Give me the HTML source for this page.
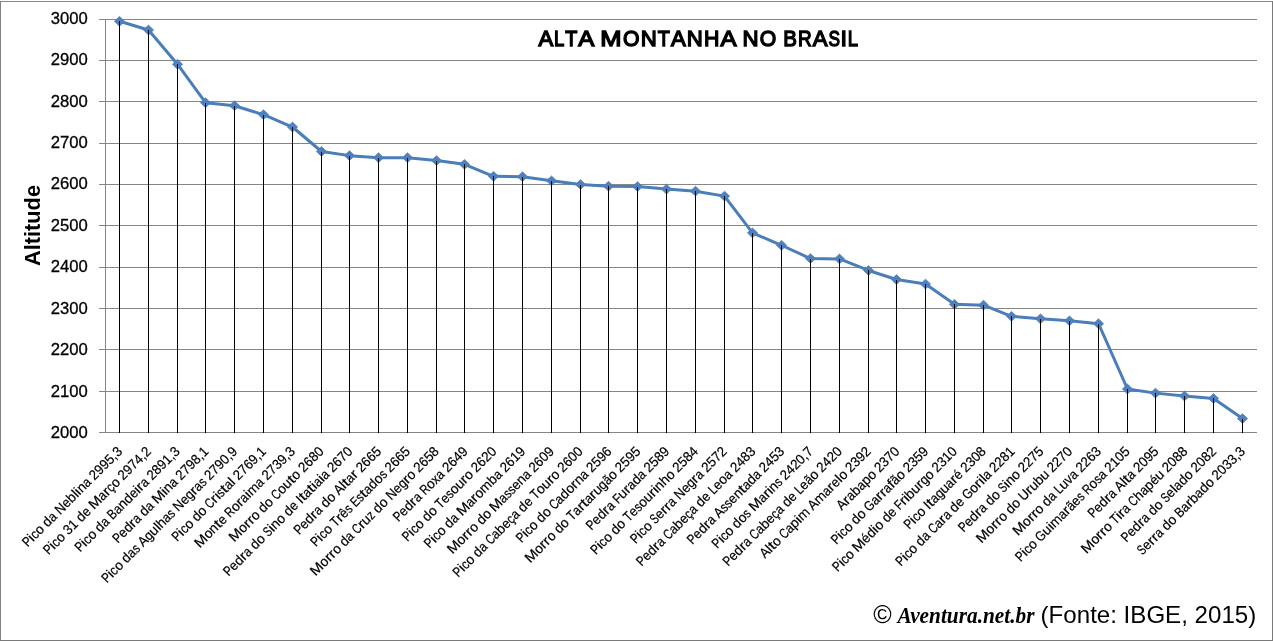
<!DOCTYPE html>
<html><head><meta charset="utf-8"><title>Alta Montanha no Brasil</title>
<style>
html,body{margin:0;padding:0;background:#fff;}
body{width:1273px;height:641px;overflow:hidden;}
svg{display:block;will-change:transform;}
.lab{font-family:"Liberation Sans",sans-serif;font-size:13.8px;fill:#000;stroke:#000;stroke-width:0.2px;}
.ylab{font-family:"Liberation Sans",sans-serif;font-size:17px;fill:#000;stroke:#000;stroke-width:0.3px;}
</style></head><body>
<svg width="1273" height="641" viewBox="0 0 1273 641">
<rect x="0" y="0" width="1273" height="641" fill="#fff"/>
<g shape-rendering="crispEdges">
<rect x="0" y="1" width="1273" height="1" fill="#878787"/>
<rect x="0" y="1" width="1" height="640" fill="#828282"/>
<rect x="1272" y="1" width="1" height="640" fill="#7a7a7a"/>
<rect x="0" y="640" width="1273" height="1" fill="#7a7a7a"/>
<rect x="99" y="19" width="1158" height="1" fill="#868686"/>
<rect x="99" y="60" width="1158" height="1" fill="#868686"/>
<rect x="99" y="101" width="1158" height="1" fill="#868686"/>
<rect x="99" y="143" width="1158" height="1" fill="#868686"/>
<rect x="99" y="184" width="1158" height="1" fill="#868686"/>
<rect x="99" y="225" width="1158" height="1" fill="#868686"/>
<rect x="99" y="267" width="1158" height="1" fill="#868686"/>
<rect x="99" y="308" width="1158" height="1" fill="#868686"/>
<rect x="99" y="349" width="1158" height="1" fill="#868686"/>
<rect x="99" y="391" width="1158" height="1" fill="#868686"/>
<rect x="99" y="432" width="1158" height="1" fill="#868686"/>
<rect x="105" y="19" width="1" height="414" fill="#868686"/>
</g>
<polyline points="119.50,21.29 148.50,30.01 177.50,64.24 205.50,102.73 234.50,105.71 263.50,114.71 292.50,127.02 321.50,151.51 349.50,155.64 378.50,157.70 407.50,157.70 436.50,160.60 464.50,164.31 493.50,176.29 522.50,176.70 551.50,180.83 580.50,184.55 608.50,186.20 637.50,186.61 666.50,189.09 695.50,191.16 724.50,196.11 752.50,232.87 781.50,245.26 810.50,258.60 839.50,258.89 868.50,270.45 896.50,279.54 925.50,284.08 954.50,304.32 983.50,305.15 1011.50,316.30 1040.50,318.78 1069.50,320.84 1098.50,323.73 1127.50,388.99 1155.50,393.12 1184.50,396.01 1213.50,398.48 1242.50,418.60" fill="none" stroke="#4A7EBB" stroke-width="3" stroke-linejoin="round" stroke-linecap="round"/>
<polygon points="119.50,16.39 124.60,21.29 119.50,26.19 114.40,21.29" fill="#4F81BD" stroke="#4A7EBB" stroke-width="0.75"/>
<polygon points="148.50,25.11 153.60,30.01 148.50,34.91 143.40,30.01" fill="#4F81BD" stroke="#4A7EBB" stroke-width="0.75"/>
<polygon points="177.50,59.34 182.60,64.24 177.50,69.14 172.40,64.24" fill="#4F81BD" stroke="#4A7EBB" stroke-width="0.75"/>
<polygon points="205.50,97.83 210.60,102.73 205.50,107.63 200.40,102.73" fill="#4F81BD" stroke="#4A7EBB" stroke-width="0.75"/>
<polygon points="234.50,100.81 239.60,105.71 234.50,110.61 229.40,105.71" fill="#4F81BD" stroke="#4A7EBB" stroke-width="0.75"/>
<polygon points="263.50,109.81 268.60,114.71 263.50,119.61 258.40,114.71" fill="#4F81BD" stroke="#4A7EBB" stroke-width="0.75"/>
<polygon points="292.50,122.12 297.60,127.02 292.50,131.92 287.40,127.02" fill="#4F81BD" stroke="#4A7EBB" stroke-width="0.75"/>
<polygon points="321.50,146.61 326.60,151.51 321.50,156.41 316.40,151.51" fill="#4F81BD" stroke="#4A7EBB" stroke-width="0.75"/>
<polygon points="349.50,150.74 354.60,155.64 349.50,160.54 344.40,155.64" fill="#4F81BD" stroke="#4A7EBB" stroke-width="0.75"/>
<polygon points="378.50,152.80 383.60,157.70 378.50,162.60 373.40,157.70" fill="#4F81BD" stroke="#4A7EBB" stroke-width="0.75"/>
<polygon points="407.50,152.80 412.60,157.70 407.50,162.60 402.40,157.70" fill="#4F81BD" stroke="#4A7EBB" stroke-width="0.75"/>
<polygon points="436.50,155.70 441.60,160.60 436.50,165.50 431.40,160.60" fill="#4F81BD" stroke="#4A7EBB" stroke-width="0.75"/>
<polygon points="464.50,159.41 469.60,164.31 464.50,169.21 459.40,164.31" fill="#4F81BD" stroke="#4A7EBB" stroke-width="0.75"/>
<polygon points="493.50,171.39 498.60,176.29 493.50,181.19 488.40,176.29" fill="#4F81BD" stroke="#4A7EBB" stroke-width="0.75"/>
<polygon points="522.50,171.80 527.60,176.70 522.50,181.60 517.40,176.70" fill="#4F81BD" stroke="#4A7EBB" stroke-width="0.75"/>
<polygon points="551.50,175.93 556.60,180.83 551.50,185.73 546.40,180.83" fill="#4F81BD" stroke="#4A7EBB" stroke-width="0.75"/>
<polygon points="580.50,179.65 585.60,184.55 580.50,189.45 575.40,184.55" fill="#4F81BD" stroke="#4A7EBB" stroke-width="0.75"/>
<polygon points="608.50,181.30 613.60,186.20 608.50,191.10 603.40,186.20" fill="#4F81BD" stroke="#4A7EBB" stroke-width="0.75"/>
<polygon points="637.50,181.71 642.60,186.61 637.50,191.51 632.40,186.61" fill="#4F81BD" stroke="#4A7EBB" stroke-width="0.75"/>
<polygon points="666.50,184.19 671.60,189.09 666.50,193.99 661.40,189.09" fill="#4F81BD" stroke="#4A7EBB" stroke-width="0.75"/>
<polygon points="695.50,186.26 700.60,191.16 695.50,196.06 690.40,191.16" fill="#4F81BD" stroke="#4A7EBB" stroke-width="0.75"/>
<polygon points="724.50,191.21 729.60,196.11 724.50,201.01 719.40,196.11" fill="#4F81BD" stroke="#4A7EBB" stroke-width="0.75"/>
<polygon points="752.50,227.97 757.60,232.87 752.50,237.77 747.40,232.87" fill="#4F81BD" stroke="#4A7EBB" stroke-width="0.75"/>
<polygon points="781.50,240.36 786.60,245.26 781.50,250.16 776.40,245.26" fill="#4F81BD" stroke="#4A7EBB" stroke-width="0.75"/>
<polygon points="810.50,253.70 815.60,258.60 810.50,263.50 805.40,258.60" fill="#4F81BD" stroke="#4A7EBB" stroke-width="0.75"/>
<polygon points="839.50,253.99 844.60,258.89 839.50,263.79 834.40,258.89" fill="#4F81BD" stroke="#4A7EBB" stroke-width="0.75"/>
<polygon points="868.50,265.55 873.60,270.45 868.50,275.35 863.40,270.45" fill="#4F81BD" stroke="#4A7EBB" stroke-width="0.75"/>
<polygon points="896.50,274.64 901.60,279.54 896.50,284.44 891.40,279.54" fill="#4F81BD" stroke="#4A7EBB" stroke-width="0.75"/>
<polygon points="925.50,279.18 930.60,284.08 925.50,288.98 920.40,284.08" fill="#4F81BD" stroke="#4A7EBB" stroke-width="0.75"/>
<polygon points="954.50,299.42 959.60,304.32 954.50,309.22 949.40,304.32" fill="#4F81BD" stroke="#4A7EBB" stroke-width="0.75"/>
<polygon points="983.50,300.25 988.60,305.15 983.50,310.05 978.40,305.15" fill="#4F81BD" stroke="#4A7EBB" stroke-width="0.75"/>
<polygon points="1011.50,311.40 1016.60,316.30 1011.50,321.20 1006.40,316.30" fill="#4F81BD" stroke="#4A7EBB" stroke-width="0.75"/>
<polygon points="1040.50,313.88 1045.60,318.78 1040.50,323.68 1035.40,318.78" fill="#4F81BD" stroke="#4A7EBB" stroke-width="0.75"/>
<polygon points="1069.50,315.94 1074.60,320.84 1069.50,325.74 1064.40,320.84" fill="#4F81BD" stroke="#4A7EBB" stroke-width="0.75"/>
<polygon points="1098.50,318.83 1103.60,323.73 1098.50,328.63 1093.40,323.73" fill="#4F81BD" stroke="#4A7EBB" stroke-width="0.75"/>
<polygon points="1127.50,384.09 1132.60,388.99 1127.50,393.88 1122.40,388.99" fill="#4F81BD" stroke="#4A7EBB" stroke-width="0.75"/>
<polygon points="1155.50,388.22 1160.60,393.12 1155.50,398.01 1150.40,393.12" fill="#4F81BD" stroke="#4A7EBB" stroke-width="0.75"/>
<polygon points="1184.50,391.11 1189.60,396.01 1184.50,400.91 1179.40,396.01" fill="#4F81BD" stroke="#4A7EBB" stroke-width="0.75"/>
<polygon points="1213.50,393.58 1218.60,398.48 1213.50,403.38 1208.40,398.48" fill="#4F81BD" stroke="#4A7EBB" stroke-width="0.75"/>
<polygon points="1242.50,413.70 1247.60,418.60 1242.50,423.50 1237.40,418.60" fill="#4F81BD" stroke="#4A7EBB" stroke-width="0.75"/>
<g shape-rendering="crispEdges">
<rect x="119" y="21.29" width="1" height="411.71" fill="#000"/>
<rect x="148" y="30.01" width="1" height="402.99" fill="#000"/>
<rect x="177" y="64.24" width="1" height="368.76" fill="#000"/>
<rect x="205" y="102.73" width="1" height="330.27" fill="#000"/>
<rect x="234" y="105.71" width="1" height="327.29" fill="#000"/>
<rect x="263" y="114.71" width="1" height="318.29" fill="#000"/>
<rect x="292" y="127.02" width="1" height="305.98" fill="#000"/>
<rect x="321" y="151.51" width="1" height="281.49" fill="#000"/>
<rect x="349" y="155.64" width="1" height="277.36" fill="#000"/>
<rect x="378" y="157.70" width="1" height="275.30" fill="#000"/>
<rect x="407" y="157.70" width="1" height="275.30" fill="#000"/>
<rect x="436" y="160.60" width="1" height="272.40" fill="#000"/>
<rect x="464" y="164.31" width="1" height="268.69" fill="#000"/>
<rect x="493" y="176.29" width="1" height="256.71" fill="#000"/>
<rect x="522" y="176.70" width="1" height="256.30" fill="#000"/>
<rect x="551" y="180.83" width="1" height="252.17" fill="#000"/>
<rect x="580" y="184.55" width="1" height="248.45" fill="#000"/>
<rect x="608" y="186.20" width="1" height="246.80" fill="#000"/>
<rect x="637" y="186.61" width="1" height="246.39" fill="#000"/>
<rect x="666" y="189.09" width="1" height="243.91" fill="#000"/>
<rect x="695" y="191.16" width="1" height="241.84" fill="#000"/>
<rect x="724" y="196.11" width="1" height="236.89" fill="#000"/>
<rect x="752" y="232.87" width="1" height="200.13" fill="#000"/>
<rect x="781" y="245.26" width="1" height="187.74" fill="#000"/>
<rect x="810" y="258.60" width="1" height="174.40" fill="#000"/>
<rect x="839" y="258.89" width="1" height="174.11" fill="#000"/>
<rect x="868" y="270.45" width="1" height="162.55" fill="#000"/>
<rect x="896" y="279.54" width="1" height="153.46" fill="#000"/>
<rect x="925" y="284.08" width="1" height="148.92" fill="#000"/>
<rect x="954" y="304.32" width="1" height="128.68" fill="#000"/>
<rect x="983" y="305.15" width="1" height="127.85" fill="#000"/>
<rect x="1011" y="316.30" width="1" height="116.70" fill="#000"/>
<rect x="1040" y="318.78" width="1" height="114.22" fill="#000"/>
<rect x="1069" y="320.84" width="1" height="112.16" fill="#000"/>
<rect x="1098" y="323.73" width="1" height="109.27" fill="#000"/>
<rect x="1127" y="388.99" width="1" height="44.01" fill="#000"/>
<rect x="1155" y="393.12" width="1" height="39.88" fill="#000"/>
<rect x="1184" y="396.01" width="1" height="36.99" fill="#000"/>
<rect x="1213" y="398.48" width="1" height="34.52" fill="#000"/>
<rect x="1242" y="418.60" width="1" height="14.40" fill="#000"/>
</g>
<text class="ylab" x="87.70" y="23.80" text-anchor="end" textLength="37.00" lengthAdjust="spacingAndGlyphs">3000</text>
<text class="ylab" x="87.70" y="65.22" text-anchor="end" textLength="37.00" lengthAdjust="spacingAndGlyphs">2900</text>
<text class="ylab" x="87.70" y="106.64" text-anchor="end" textLength="37.00" lengthAdjust="spacingAndGlyphs">2800</text>
<text class="ylab" x="87.70" y="148.06" text-anchor="end" textLength="37.00" lengthAdjust="spacingAndGlyphs">2700</text>
<text class="ylab" x="87.70" y="189.48" text-anchor="end" textLength="37.00" lengthAdjust="spacingAndGlyphs">2600</text>
<text class="ylab" x="87.70" y="230.90" text-anchor="end" textLength="37.00" lengthAdjust="spacingAndGlyphs">2500</text>
<text class="ylab" x="87.70" y="272.32" text-anchor="end" textLength="37.00" lengthAdjust="spacingAndGlyphs">2400</text>
<text class="ylab" x="87.70" y="313.74" text-anchor="end" textLength="37.00" lengthAdjust="spacingAndGlyphs">2300</text>
<text class="ylab" x="87.70" y="355.16" text-anchor="end" textLength="37.00" lengthAdjust="spacingAndGlyphs">2200</text>
<text class="ylab" x="87.70" y="396.58" text-anchor="end" textLength="37.00" lengthAdjust="spacingAndGlyphs">2100</text>
<text class="ylab" x="87.70" y="438.00" text-anchor="end" textLength="37.00" lengthAdjust="spacingAndGlyphs">2000</text>
<text class="lab" transform="translate(123.10 452.20) rotate(-45)"><tspan x="-134.77" textLength="7.49" lengthAdjust="spacingAndGlyphs">P</tspan><tspan x="-127.28" textLength="3.33" lengthAdjust="spacingAndGlyphs">i</tspan><tspan x="-123.95" textLength="6.13" lengthAdjust="spacingAndGlyphs">c</tspan><tspan x="-117.82" textLength="7.65" lengthAdjust="spacingAndGlyphs">o</tspan> <tspan x="-106.90" textLength="7.62" lengthAdjust="spacingAndGlyphs">d</tspan><tspan x="-99.28" textLength="6.95" lengthAdjust="spacingAndGlyphs">a</tspan> <tspan x="-89.05" textLength="9.36" lengthAdjust="spacingAndGlyphs">N</tspan><tspan x="-79.69" textLength="7.21" lengthAdjust="spacingAndGlyphs">e</tspan><tspan x="-72.48" textLength="7.62" lengthAdjust="spacingAndGlyphs">b</tspan><tspan x="-64.86" textLength="3.33" lengthAdjust="spacingAndGlyphs">l</tspan><tspan x="-61.53" textLength="3.33" lengthAdjust="spacingAndGlyphs">i</tspan><tspan x="-58.21" textLength="7.62" lengthAdjust="spacingAndGlyphs">n</tspan><tspan x="-50.59" textLength="6.95" lengthAdjust="spacingAndGlyphs">a</tspan> <tspan x="-40.36" textLength="7.35" lengthAdjust="spacingAndGlyphs">2</tspan><tspan x="-33.01" textLength="7.35" lengthAdjust="spacingAndGlyphs">9</tspan><tspan x="-25.67" textLength="7.35" lengthAdjust="spacingAndGlyphs">9</tspan><tspan x="-18.32" textLength="7.35" lengthAdjust="spacingAndGlyphs">5</tspan><tspan x="-10.97" textLength="3.62" lengthAdjust="spacingAndGlyphs">,</tspan><tspan x="-7.35" textLength="7.35" lengthAdjust="spacingAndGlyphs">3</tspan></text>
<text class="lab" transform="translate(151.89 452.20) rotate(-45)"><tspan x="-145.78" textLength="7.49" lengthAdjust="spacingAndGlyphs">P</tspan><tspan x="-138.29" textLength="3.33" lengthAdjust="spacingAndGlyphs">i</tspan><tspan x="-134.96" textLength="6.13" lengthAdjust="spacingAndGlyphs">c</tspan><tspan x="-128.83" textLength="7.65" lengthAdjust="spacingAndGlyphs">o</tspan> <tspan x="-117.90" textLength="7.35" lengthAdjust="spacingAndGlyphs">3</tspan><tspan x="-110.56" textLength="7.35" lengthAdjust="spacingAndGlyphs">1</tspan> <tspan x="-99.93" textLength="7.62" lengthAdjust="spacingAndGlyphs">d</tspan><tspan x="-92.31" textLength="7.21" lengthAdjust="spacingAndGlyphs">e</tspan> <tspan x="-81.82" textLength="12.40" lengthAdjust="spacingAndGlyphs">M</tspan><tspan x="-69.42" textLength="6.95" lengthAdjust="spacingAndGlyphs">a</tspan><tspan x="-62.47" textLength="5.06" lengthAdjust="spacingAndGlyphs">r</tspan><tspan x="-57.42" textLength="6.13" lengthAdjust="spacingAndGlyphs">ç</tspan><tspan x="-51.29" textLength="7.65" lengthAdjust="spacingAndGlyphs">o</tspan> <tspan x="-40.36" textLength="7.35" lengthAdjust="spacingAndGlyphs">2</tspan><tspan x="-33.01" textLength="7.35" lengthAdjust="spacingAndGlyphs">9</tspan><tspan x="-25.67" textLength="7.35" lengthAdjust="spacingAndGlyphs">7</tspan><tspan x="-18.32" textLength="7.35" lengthAdjust="spacingAndGlyphs">4</tspan><tspan x="-10.97" textLength="3.62" lengthAdjust="spacingAndGlyphs">,</tspan><tspan x="-7.35" textLength="7.35" lengthAdjust="spacingAndGlyphs">2</tspan></text>
<text class="lab" transform="translate(180.68 452.20) rotate(-45)"><tspan x="-141.97" textLength="7.49" lengthAdjust="spacingAndGlyphs">P</tspan><tspan x="-134.48" textLength="3.33" lengthAdjust="spacingAndGlyphs">i</tspan><tspan x="-131.15" textLength="6.13" lengthAdjust="spacingAndGlyphs">c</tspan><tspan x="-125.02" textLength="7.65" lengthAdjust="spacingAndGlyphs">o</tspan> <tspan x="-114.10" textLength="7.62" lengthAdjust="spacingAndGlyphs">d</tspan><tspan x="-106.48" textLength="6.95" lengthAdjust="spacingAndGlyphs">a</tspan> <tspan x="-96.25" textLength="7.89" lengthAdjust="spacingAndGlyphs">B</tspan><tspan x="-88.37" textLength="6.95" lengthAdjust="spacingAndGlyphs">a</tspan><tspan x="-81.42" textLength="7.62" lengthAdjust="spacingAndGlyphs">n</tspan><tspan x="-73.80" textLength="7.62" lengthAdjust="spacingAndGlyphs">d</tspan><tspan x="-66.18" textLength="7.21" lengthAdjust="spacingAndGlyphs">e</tspan><tspan x="-58.97" textLength="3.33" lengthAdjust="spacingAndGlyphs">i</tspan><tspan x="-55.64" textLength="5.06" lengthAdjust="spacingAndGlyphs">r</tspan><tspan x="-50.59" textLength="6.95" lengthAdjust="spacingAndGlyphs">a</tspan> <tspan x="-40.36" textLength="7.35" lengthAdjust="spacingAndGlyphs">2</tspan><tspan x="-33.01" textLength="7.35" lengthAdjust="spacingAndGlyphs">8</tspan><tspan x="-25.67" textLength="7.35" lengthAdjust="spacingAndGlyphs">9</tspan><tspan x="-18.32" textLength="7.35" lengthAdjust="spacingAndGlyphs">1</tspan><tspan x="-10.97" textLength="3.62" lengthAdjust="spacingAndGlyphs">,</tspan><tspan x="-7.35" textLength="7.35" lengthAdjust="spacingAndGlyphs">3</tspan></text>
<text class="lab" transform="translate(209.47 452.20) rotate(-45)"><tspan x="-129.37" textLength="7.49" lengthAdjust="spacingAndGlyphs">P</tspan><tspan x="-121.88" textLength="7.21" lengthAdjust="spacingAndGlyphs">e</tspan><tspan x="-114.67" textLength="7.62" lengthAdjust="spacingAndGlyphs">d</tspan><tspan x="-107.05" textLength="5.06" lengthAdjust="spacingAndGlyphs">r</tspan><tspan x="-102.00" textLength="6.95" lengthAdjust="spacingAndGlyphs">a</tspan> <tspan x="-91.77" textLength="7.62" lengthAdjust="spacingAndGlyphs">d</tspan><tspan x="-84.15" textLength="6.95" lengthAdjust="spacingAndGlyphs">a</tspan> <tspan x="-73.93" textLength="12.40" lengthAdjust="spacingAndGlyphs">M</tspan><tspan x="-61.53" textLength="3.33" lengthAdjust="spacingAndGlyphs">i</tspan><tspan x="-58.21" textLength="7.62" lengthAdjust="spacingAndGlyphs">n</tspan><tspan x="-50.59" textLength="6.95" lengthAdjust="spacingAndGlyphs">a</tspan> <tspan x="-40.36" textLength="7.35" lengthAdjust="spacingAndGlyphs">2</tspan><tspan x="-33.01" textLength="7.35" lengthAdjust="spacingAndGlyphs">7</tspan><tspan x="-25.67" textLength="7.35" lengthAdjust="spacingAndGlyphs">9</tspan><tspan x="-18.32" textLength="7.35" lengthAdjust="spacingAndGlyphs">8</tspan><tspan x="-10.97" textLength="3.62" lengthAdjust="spacingAndGlyphs">,</tspan><tspan x="-7.35" textLength="7.35" lengthAdjust="spacingAndGlyphs">1</tspan></text>
<text class="lab" transform="translate(238.26 452.20) rotate(-45)"><tspan x="-185.77" textLength="7.49" lengthAdjust="spacingAndGlyphs">P</tspan><tspan x="-178.28" textLength="3.33" lengthAdjust="spacingAndGlyphs">i</tspan><tspan x="-174.96" textLength="6.13" lengthAdjust="spacingAndGlyphs">c</tspan><tspan x="-168.82" textLength="7.65" lengthAdjust="spacingAndGlyphs">o</tspan> <tspan x="-157.90" textLength="7.62" lengthAdjust="spacingAndGlyphs">d</tspan><tspan x="-150.28" textLength="6.95" lengthAdjust="spacingAndGlyphs">a</tspan><tspan x="-143.34" textLength="5.67" lengthAdjust="spacingAndGlyphs">s</tspan> <tspan x="-134.39" textLength="8.39" lengthAdjust="spacingAndGlyphs">A</tspan><tspan x="-126.00" textLength="6.83" lengthAdjust="spacingAndGlyphs">g</tspan><tspan x="-119.17" textLength="7.62" lengthAdjust="spacingAndGlyphs">u</tspan><tspan x="-111.55" textLength="3.33" lengthAdjust="spacingAndGlyphs">l</tspan><tspan x="-108.23" textLength="7.62" lengthAdjust="spacingAndGlyphs">h</tspan><tspan x="-100.61" textLength="6.95" lengthAdjust="spacingAndGlyphs">a</tspan><tspan x="-93.66" textLength="5.67" lengthAdjust="spacingAndGlyphs">s</tspan> <tspan x="-84.71" textLength="9.36" lengthAdjust="spacingAndGlyphs">N</tspan><tspan x="-75.35" textLength="7.21" lengthAdjust="spacingAndGlyphs">e</tspan><tspan x="-68.14" textLength="6.83" lengthAdjust="spacingAndGlyphs">g</tspan><tspan x="-61.31" textLength="5.06" lengthAdjust="spacingAndGlyphs">r</tspan><tspan x="-56.26" textLength="6.95" lengthAdjust="spacingAndGlyphs">a</tspan><tspan x="-49.31" textLength="5.67" lengthAdjust="spacingAndGlyphs">s</tspan> <tspan x="-40.36" textLength="7.35" lengthAdjust="spacingAndGlyphs">2</tspan><tspan x="-33.01" textLength="7.35" lengthAdjust="spacingAndGlyphs">7</tspan><tspan x="-25.67" textLength="7.35" lengthAdjust="spacingAndGlyphs">9</tspan><tspan x="-18.32" textLength="7.35" lengthAdjust="spacingAndGlyphs">0</tspan><tspan x="-10.97" textLength="3.62" lengthAdjust="spacingAndGlyphs">,</tspan><tspan x="-7.35" textLength="7.35" lengthAdjust="spacingAndGlyphs">9</tspan></text>
<text class="lab" transform="translate(267.05 452.20) rotate(-45)"><tspan x="-126.97" textLength="7.49" lengthAdjust="spacingAndGlyphs">P</tspan><tspan x="-119.48" textLength="3.33" lengthAdjust="spacingAndGlyphs">i</tspan><tspan x="-116.16" textLength="6.13" lengthAdjust="spacingAndGlyphs">c</tspan><tspan x="-110.02" textLength="7.65" lengthAdjust="spacingAndGlyphs">o</tspan> <tspan x="-99.10" textLength="7.62" lengthAdjust="spacingAndGlyphs">d</tspan><tspan x="-91.48" textLength="7.65" lengthAdjust="spacingAndGlyphs">o</tspan> <tspan x="-80.56" textLength="7.73" lengthAdjust="spacingAndGlyphs">C</tspan><tspan x="-72.83" textLength="5.06" lengthAdjust="spacingAndGlyphs">r</tspan><tspan x="-67.77" textLength="3.33" lengthAdjust="spacingAndGlyphs">i</tspan><tspan x="-64.44" textLength="5.67" lengthAdjust="spacingAndGlyphs">s</tspan><tspan x="-58.77" textLength="4.86" lengthAdjust="spacingAndGlyphs">t</tspan><tspan x="-53.91" textLength="6.95" lengthAdjust="spacingAndGlyphs">a</tspan><tspan x="-46.97" textLength="3.33" lengthAdjust="spacingAndGlyphs">l</tspan> <tspan x="-40.36" textLength="7.35" lengthAdjust="spacingAndGlyphs">2</tspan><tspan x="-33.01" textLength="7.35" lengthAdjust="spacingAndGlyphs">7</tspan><tspan x="-25.67" textLength="7.35" lengthAdjust="spacingAndGlyphs">6</tspan><tspan x="-18.32" textLength="7.35" lengthAdjust="spacingAndGlyphs">9</tspan><tspan x="-10.97" textLength="3.62" lengthAdjust="spacingAndGlyphs">,</tspan><tspan x="-7.35" textLength="7.35" lengthAdjust="spacingAndGlyphs">1</tspan></text>
<text class="lab" transform="translate(295.84 452.20) rotate(-45)"><tspan x="-136.03" textLength="12.40" lengthAdjust="spacingAndGlyphs">M</tspan><tspan x="-123.63" textLength="7.65" lengthAdjust="spacingAndGlyphs">o</tspan><tspan x="-115.99" textLength="7.62" lengthAdjust="spacingAndGlyphs">n</tspan><tspan x="-108.37" textLength="4.86" lengthAdjust="spacingAndGlyphs">t</tspan><tspan x="-103.51" textLength="7.21" lengthAdjust="spacingAndGlyphs">e</tspan> <tspan x="-93.02" textLength="7.87" lengthAdjust="spacingAndGlyphs">R</tspan><tspan x="-85.15" textLength="7.65" lengthAdjust="spacingAndGlyphs">o</tspan><tspan x="-77.50" textLength="5.06" lengthAdjust="spacingAndGlyphs">r</tspan><tspan x="-72.44" textLength="6.95" lengthAdjust="spacingAndGlyphs">a</tspan><tspan x="-65.50" textLength="3.33" lengthAdjust="spacingAndGlyphs">i</tspan><tspan x="-62.17" textLength="11.58" lengthAdjust="spacingAndGlyphs">m</tspan><tspan x="-50.59" textLength="6.95" lengthAdjust="spacingAndGlyphs">a</tspan> <tspan x="-40.36" textLength="7.35" lengthAdjust="spacingAndGlyphs">2</tspan><tspan x="-33.01" textLength="7.35" lengthAdjust="spacingAndGlyphs">7</tspan><tspan x="-25.67" textLength="7.35" lengthAdjust="spacingAndGlyphs">3</tspan><tspan x="-18.32" textLength="7.35" lengthAdjust="spacingAndGlyphs">9</tspan><tspan x="-10.97" textLength="3.62" lengthAdjust="spacingAndGlyphs">,</tspan><tspan x="-7.35" textLength="7.35" lengthAdjust="spacingAndGlyphs">3</tspan></text>
<text class="lab" transform="translate(324.63 452.20) rotate(-45)"><tspan x="-127.80" textLength="12.40" lengthAdjust="spacingAndGlyphs">M</tspan><tspan x="-115.40" textLength="7.65" lengthAdjust="spacingAndGlyphs">o</tspan><tspan x="-107.75" textLength="5.06" lengthAdjust="spacingAndGlyphs">r</tspan><tspan x="-102.70" textLength="5.06" lengthAdjust="spacingAndGlyphs">r</tspan><tspan x="-97.64" textLength="7.65" lengthAdjust="spacingAndGlyphs">o</tspan> <tspan x="-86.72" textLength="7.62" lengthAdjust="spacingAndGlyphs">d</tspan><tspan x="-79.10" textLength="7.65" lengthAdjust="spacingAndGlyphs">o</tspan> <tspan x="-68.17" textLength="7.73" lengthAdjust="spacingAndGlyphs">C</tspan><tspan x="-60.44" textLength="7.65" lengthAdjust="spacingAndGlyphs">o</tspan><tspan x="-52.80" textLength="7.62" lengthAdjust="spacingAndGlyphs">u</tspan><tspan x="-45.18" textLength="4.86" lengthAdjust="spacingAndGlyphs">t</tspan><tspan x="-40.32" textLength="7.65" lengthAdjust="spacingAndGlyphs">o</tspan> <tspan x="-29.40" textLength="7.35" lengthAdjust="spacingAndGlyphs">2</tspan><tspan x="-22.05" textLength="7.35" lengthAdjust="spacingAndGlyphs">6</tspan><tspan x="-14.70" textLength="7.35" lengthAdjust="spacingAndGlyphs">8</tspan><tspan x="-7.35" textLength="7.35" lengthAdjust="spacingAndGlyphs">0</tspan></text>
<text class="lab" transform="translate(353.42 452.20) rotate(-45)"><tspan x="-176.32" textLength="7.49" lengthAdjust="spacingAndGlyphs">P</tspan><tspan x="-168.83" textLength="7.21" lengthAdjust="spacingAndGlyphs">e</tspan><tspan x="-161.62" textLength="7.62" lengthAdjust="spacingAndGlyphs">d</tspan><tspan x="-154.00" textLength="5.06" lengthAdjust="spacingAndGlyphs">r</tspan><tspan x="-148.94" textLength="6.95" lengthAdjust="spacingAndGlyphs">a</tspan> <tspan x="-138.72" textLength="7.62" lengthAdjust="spacingAndGlyphs">d</tspan><tspan x="-131.10" textLength="7.65" lengthAdjust="spacingAndGlyphs">o</tspan> <tspan x="-120.18" textLength="6.66" lengthAdjust="spacingAndGlyphs">S</tspan><tspan x="-113.51" textLength="3.33" lengthAdjust="spacingAndGlyphs">i</tspan><tspan x="-110.19" textLength="7.62" lengthAdjust="spacingAndGlyphs">n</tspan><tspan x="-102.57" textLength="7.65" lengthAdjust="spacingAndGlyphs">o</tspan> <tspan x="-91.64" textLength="7.62" lengthAdjust="spacingAndGlyphs">d</tspan><tspan x="-84.03" textLength="7.21" lengthAdjust="spacingAndGlyphs">e</tspan> <tspan x="-73.53" textLength="3.65" lengthAdjust="spacingAndGlyphs">I</tspan><tspan x="-69.88" textLength="4.86" lengthAdjust="spacingAndGlyphs">t</tspan><tspan x="-65.02" textLength="6.95" lengthAdjust="spacingAndGlyphs">a</tspan><tspan x="-58.08" textLength="4.86" lengthAdjust="spacingAndGlyphs">t</tspan><tspan x="-53.22" textLength="3.33" lengthAdjust="spacingAndGlyphs">i</tspan><tspan x="-49.89" textLength="6.95" lengthAdjust="spacingAndGlyphs">a</tspan><tspan x="-42.95" textLength="3.33" lengthAdjust="spacingAndGlyphs">i</tspan><tspan x="-39.62" textLength="6.95" lengthAdjust="spacingAndGlyphs">a</tspan> <tspan x="-29.40" textLength="7.35" lengthAdjust="spacingAndGlyphs">2</tspan><tspan x="-22.05" textLength="7.35" lengthAdjust="spacingAndGlyphs">6</tspan><tspan x="-14.70" textLength="7.35" lengthAdjust="spacingAndGlyphs">7</tspan><tspan x="-7.35" textLength="7.35" lengthAdjust="spacingAndGlyphs">0</tspan></text>
<text class="lab" transform="translate(382.21 452.20) rotate(-45)"><tspan x="-117.39" textLength="7.49" lengthAdjust="spacingAndGlyphs">P</tspan><tspan x="-109.90" textLength="7.21" lengthAdjust="spacingAndGlyphs">e</tspan><tspan x="-102.69" textLength="7.62" lengthAdjust="spacingAndGlyphs">d</tspan><tspan x="-95.07" textLength="5.06" lengthAdjust="spacingAndGlyphs">r</tspan><tspan x="-90.02" textLength="6.95" lengthAdjust="spacingAndGlyphs">a</tspan> <tspan x="-79.79" textLength="7.62" lengthAdjust="spacingAndGlyphs">d</tspan><tspan x="-72.17" textLength="7.65" lengthAdjust="spacingAndGlyphs">o</tspan> <tspan x="-61.25" textLength="8.39" lengthAdjust="spacingAndGlyphs">A</tspan><tspan x="-52.86" textLength="3.33" lengthAdjust="spacingAndGlyphs">l</tspan><tspan x="-49.53" textLength="4.86" lengthAdjust="spacingAndGlyphs">t</tspan><tspan x="-44.68" textLength="6.95" lengthAdjust="spacingAndGlyphs">a</tspan><tspan x="-37.73" textLength="5.06" lengthAdjust="spacingAndGlyphs">r</tspan> <tspan x="-29.40" textLength="7.35" lengthAdjust="spacingAndGlyphs">2</tspan><tspan x="-22.05" textLength="7.35" lengthAdjust="spacingAndGlyphs">6</tspan><tspan x="-14.70" textLength="7.35" lengthAdjust="spacingAndGlyphs">6</tspan><tspan x="-7.35" textLength="7.35" lengthAdjust="spacingAndGlyphs">5</tspan></text>
<text class="lab" transform="translate(411.00 452.20) rotate(-45)"><tspan x="-134.32" textLength="7.49" lengthAdjust="spacingAndGlyphs">P</tspan><tspan x="-126.83" textLength="3.33" lengthAdjust="spacingAndGlyphs">i</tspan><tspan x="-123.50" textLength="6.13" lengthAdjust="spacingAndGlyphs">c</tspan><tspan x="-117.37" textLength="7.65" lengthAdjust="spacingAndGlyphs">o</tspan> <tspan x="-106.45" textLength="7.07" lengthAdjust="spacingAndGlyphs">T</tspan><tspan x="-99.38" textLength="5.06" lengthAdjust="spacingAndGlyphs">r</tspan><tspan x="-94.33" textLength="7.21" lengthAdjust="spacingAndGlyphs">ê</tspan><tspan x="-87.11" textLength="5.67" lengthAdjust="spacingAndGlyphs">s</tspan> <tspan x="-78.16" textLength="7.08" lengthAdjust="spacingAndGlyphs">E</tspan><tspan x="-71.08" textLength="5.67" lengthAdjust="spacingAndGlyphs">s</tspan><tspan x="-65.41" textLength="4.86" lengthAdjust="spacingAndGlyphs">t</tspan><tspan x="-60.56" textLength="6.95" lengthAdjust="spacingAndGlyphs">a</tspan><tspan x="-53.61" textLength="7.62" lengthAdjust="spacingAndGlyphs">d</tspan><tspan x="-45.99" textLength="7.65" lengthAdjust="spacingAndGlyphs">o</tspan><tspan x="-38.35" textLength="5.67" lengthAdjust="spacingAndGlyphs">s</tspan> <tspan x="-29.40" textLength="7.35" lengthAdjust="spacingAndGlyphs">2</tspan><tspan x="-22.05" textLength="7.35" lengthAdjust="spacingAndGlyphs">6</tspan><tspan x="-14.70" textLength="7.35" lengthAdjust="spacingAndGlyphs">6</tspan><tspan x="-7.35" textLength="7.35" lengthAdjust="spacingAndGlyphs">5</tspan></text>
<text class="lab" transform="translate(439.79 452.20) rotate(-45)"><tspan x="-175.65" textLength="12.40" lengthAdjust="spacingAndGlyphs">M</tspan><tspan x="-163.25" textLength="7.65" lengthAdjust="spacingAndGlyphs">o</tspan><tspan x="-155.61" textLength="5.06" lengthAdjust="spacingAndGlyphs">r</tspan><tspan x="-150.55" textLength="5.06" lengthAdjust="spacingAndGlyphs">r</tspan><tspan x="-145.50" textLength="7.65" lengthAdjust="spacingAndGlyphs">o</tspan> <tspan x="-134.57" textLength="7.62" lengthAdjust="spacingAndGlyphs">d</tspan><tspan x="-126.95" textLength="6.95" lengthAdjust="spacingAndGlyphs">a</tspan> <tspan x="-116.73" textLength="7.73" lengthAdjust="spacingAndGlyphs">C</tspan><tspan x="-109.00" textLength="5.06" lengthAdjust="spacingAndGlyphs">r</tspan><tspan x="-103.94" textLength="7.62" lengthAdjust="spacingAndGlyphs">u</tspan><tspan x="-96.32" textLength="5.73" lengthAdjust="spacingAndGlyphs">z</tspan> <tspan x="-87.32" textLength="7.62" lengthAdjust="spacingAndGlyphs">d</tspan><tspan x="-79.70" textLength="7.65" lengthAdjust="spacingAndGlyphs">o</tspan> <tspan x="-68.78" textLength="9.36" lengthAdjust="spacingAndGlyphs">N</tspan><tspan x="-59.42" textLength="7.21" lengthAdjust="spacingAndGlyphs">e</tspan><tspan x="-52.20" textLength="6.83" lengthAdjust="spacingAndGlyphs">g</tspan><tspan x="-45.38" textLength="5.06" lengthAdjust="spacingAndGlyphs">r</tspan><tspan x="-40.32" textLength="7.65" lengthAdjust="spacingAndGlyphs">o</tspan> <tspan x="-29.40" textLength="7.35" lengthAdjust="spacingAndGlyphs">2</tspan><tspan x="-22.05" textLength="7.35" lengthAdjust="spacingAndGlyphs">6</tspan><tspan x="-14.70" textLength="7.35" lengthAdjust="spacingAndGlyphs">5</tspan><tspan x="-7.35" textLength="7.35" lengthAdjust="spacingAndGlyphs">8</tspan></text>
<text class="lab" transform="translate(468.58 452.20) rotate(-45)"><tspan x="-99.02" textLength="7.49" lengthAdjust="spacingAndGlyphs">P</tspan><tspan x="-91.53" textLength="7.21" lengthAdjust="spacingAndGlyphs">e</tspan><tspan x="-84.32" textLength="7.62" lengthAdjust="spacingAndGlyphs">d</tspan><tspan x="-76.70" textLength="5.06" lengthAdjust="spacingAndGlyphs">r</tspan><tspan x="-71.64" textLength="6.95" lengthAdjust="spacingAndGlyphs">a</tspan> <tspan x="-61.42" textLength="7.87" lengthAdjust="spacingAndGlyphs">R</tspan><tspan x="-53.55" textLength="7.65" lengthAdjust="spacingAndGlyphs">o</tspan><tspan x="-45.90" textLength="6.28" lengthAdjust="spacingAndGlyphs">x</tspan><tspan x="-39.62" textLength="6.95" lengthAdjust="spacingAndGlyphs">a</tspan> <tspan x="-29.40" textLength="7.35" lengthAdjust="spacingAndGlyphs">2</tspan><tspan x="-22.05" textLength="7.35" lengthAdjust="spacingAndGlyphs">6</tspan><tspan x="-14.70" textLength="7.35" lengthAdjust="spacingAndGlyphs">4</tspan><tspan x="-7.35" textLength="7.35" lengthAdjust="spacingAndGlyphs">9</tspan></text>
<text class="lab" transform="translate(497.37 452.20) rotate(-45)"><tspan x="-127.01" textLength="7.49" lengthAdjust="spacingAndGlyphs">P</tspan><tspan x="-119.52" textLength="3.33" lengthAdjust="spacingAndGlyphs">i</tspan><tspan x="-116.19" textLength="6.13" lengthAdjust="spacingAndGlyphs">c</tspan><tspan x="-110.06" textLength="7.65" lengthAdjust="spacingAndGlyphs">o</tspan> <tspan x="-99.14" textLength="7.62" lengthAdjust="spacingAndGlyphs">d</tspan><tspan x="-91.52" textLength="7.65" lengthAdjust="spacingAndGlyphs">o</tspan> <tspan x="-80.59" textLength="7.07" lengthAdjust="spacingAndGlyphs">T</tspan><tspan x="-73.53" textLength="7.21" lengthAdjust="spacingAndGlyphs">e</tspan><tspan x="-66.31" textLength="5.67" lengthAdjust="spacingAndGlyphs">s</tspan><tspan x="-60.64" textLength="7.65" lengthAdjust="spacingAndGlyphs">o</tspan><tspan x="-52.99" textLength="7.62" lengthAdjust="spacingAndGlyphs">u</tspan><tspan x="-45.38" textLength="5.06" lengthAdjust="spacingAndGlyphs">r</tspan><tspan x="-40.32" textLength="7.65" lengthAdjust="spacingAndGlyphs">o</tspan> <tspan x="-29.40" textLength="7.35" lengthAdjust="spacingAndGlyphs">2</tspan><tspan x="-22.05" textLength="7.35" lengthAdjust="spacingAndGlyphs">6</tspan><tspan x="-14.70" textLength="7.35" lengthAdjust="spacingAndGlyphs">2</tspan><tspan x="-7.35" textLength="7.35" lengthAdjust="spacingAndGlyphs">0</tspan></text>
<text class="lab" transform="translate(526.16 452.20) rotate(-45)"><tspan x="-136.58" textLength="7.49" lengthAdjust="spacingAndGlyphs">P</tspan><tspan x="-129.09" textLength="3.33" lengthAdjust="spacingAndGlyphs">i</tspan><tspan x="-125.76" textLength="6.13" lengthAdjust="spacingAndGlyphs">c</tspan><tspan x="-119.63" textLength="7.65" lengthAdjust="spacingAndGlyphs">o</tspan> <tspan x="-108.71" textLength="7.62" lengthAdjust="spacingAndGlyphs">d</tspan><tspan x="-101.09" textLength="6.95" lengthAdjust="spacingAndGlyphs">a</tspan> <tspan x="-90.87" textLength="12.40" lengthAdjust="spacingAndGlyphs">M</tspan><tspan x="-78.47" textLength="6.95" lengthAdjust="spacingAndGlyphs">a</tspan><tspan x="-71.52" textLength="5.06" lengthAdjust="spacingAndGlyphs">r</tspan><tspan x="-66.47" textLength="7.65" lengthAdjust="spacingAndGlyphs">o</tspan><tspan x="-58.82" textLength="11.58" lengthAdjust="spacingAndGlyphs">m</tspan><tspan x="-47.24" textLength="7.62" lengthAdjust="spacingAndGlyphs">b</tspan><tspan x="-39.62" textLength="6.95" lengthAdjust="spacingAndGlyphs">a</tspan> <tspan x="-29.40" textLength="7.35" lengthAdjust="spacingAndGlyphs">2</tspan><tspan x="-22.05" textLength="7.35" lengthAdjust="spacingAndGlyphs">6</tspan><tspan x="-14.70" textLength="7.35" lengthAdjust="spacingAndGlyphs">1</tspan><tspan x="-7.35" textLength="7.35" lengthAdjust="spacingAndGlyphs">9</tspan></text>
<text class="lab" transform="translate(554.95 452.20) rotate(-45)"><tspan x="-144.76" textLength="12.40" lengthAdjust="spacingAndGlyphs">M</tspan><tspan x="-132.36" textLength="7.65" lengthAdjust="spacingAndGlyphs">o</tspan><tspan x="-124.72" textLength="5.06" lengthAdjust="spacingAndGlyphs">r</tspan><tspan x="-119.66" textLength="5.06" lengthAdjust="spacingAndGlyphs">r</tspan><tspan x="-114.61" textLength="7.65" lengthAdjust="spacingAndGlyphs">o</tspan> <tspan x="-103.68" textLength="7.62" lengthAdjust="spacingAndGlyphs">d</tspan><tspan x="-96.06" textLength="7.65" lengthAdjust="spacingAndGlyphs">o</tspan> <tspan x="-85.14" textLength="12.40" lengthAdjust="spacingAndGlyphs">M</tspan><tspan x="-72.74" textLength="6.95" lengthAdjust="spacingAndGlyphs">a</tspan><tspan x="-65.80" textLength="5.67" lengthAdjust="spacingAndGlyphs">s</tspan><tspan x="-60.12" textLength="5.67" lengthAdjust="spacingAndGlyphs">s</tspan><tspan x="-54.45" textLength="7.21" lengthAdjust="spacingAndGlyphs">e</tspan><tspan x="-47.24" textLength="7.62" lengthAdjust="spacingAndGlyphs">n</tspan><tspan x="-39.62" textLength="6.95" lengthAdjust="spacingAndGlyphs">a</tspan> <tspan x="-29.40" textLength="7.35" lengthAdjust="spacingAndGlyphs">2</tspan><tspan x="-22.05" textLength="7.35" lengthAdjust="spacingAndGlyphs">6</tspan><tspan x="-14.70" textLength="7.35" lengthAdjust="spacingAndGlyphs">0</tspan><tspan x="-7.35" textLength="7.35" lengthAdjust="spacingAndGlyphs">9</tspan></text>
<text class="lab" transform="translate(583.74 452.20) rotate(-45)"><tspan x="-177.40" textLength="7.49" lengthAdjust="spacingAndGlyphs">P</tspan><tspan x="-169.91" textLength="3.33" lengthAdjust="spacingAndGlyphs">i</tspan><tspan x="-166.58" textLength="6.13" lengthAdjust="spacingAndGlyphs">c</tspan><tspan x="-160.45" textLength="7.65" lengthAdjust="spacingAndGlyphs">o</tspan> <tspan x="-149.52" textLength="7.62" lengthAdjust="spacingAndGlyphs">d</tspan><tspan x="-141.91" textLength="6.95" lengthAdjust="spacingAndGlyphs">a</tspan> <tspan x="-131.68" textLength="7.73" lengthAdjust="spacingAndGlyphs">C</tspan><tspan x="-123.95" textLength="6.95" lengthAdjust="spacingAndGlyphs">a</tspan><tspan x="-117.01" textLength="7.62" lengthAdjust="spacingAndGlyphs">b</tspan><tspan x="-109.39" textLength="7.21" lengthAdjust="spacingAndGlyphs">e</tspan><tspan x="-102.17" textLength="6.13" lengthAdjust="spacingAndGlyphs">ç</tspan><tspan x="-96.04" textLength="6.95" lengthAdjust="spacingAndGlyphs">a</tspan> <tspan x="-85.82" textLength="7.62" lengthAdjust="spacingAndGlyphs">d</tspan><tspan x="-78.20" textLength="7.21" lengthAdjust="spacingAndGlyphs">e</tspan> <tspan x="-67.71" textLength="7.07" lengthAdjust="spacingAndGlyphs">T</tspan><tspan x="-60.64" textLength="7.65" lengthAdjust="spacingAndGlyphs">o</tspan><tspan x="-52.99" textLength="7.62" lengthAdjust="spacingAndGlyphs">u</tspan><tspan x="-45.38" textLength="5.06" lengthAdjust="spacingAndGlyphs">r</tspan><tspan x="-40.32" textLength="7.65" lengthAdjust="spacingAndGlyphs">o</tspan> <tspan x="-29.40" textLength="7.35" lengthAdjust="spacingAndGlyphs">2</tspan><tspan x="-22.05" textLength="7.35" lengthAdjust="spacingAndGlyphs">6</tspan><tspan x="-14.70" textLength="7.35" lengthAdjust="spacingAndGlyphs">0</tspan><tspan x="-7.35" textLength="7.35" lengthAdjust="spacingAndGlyphs">0</tspan></text>
<text class="lab" transform="translate(612.53 452.20) rotate(-45)"><tspan x="-128.65" textLength="7.49" lengthAdjust="spacingAndGlyphs">P</tspan><tspan x="-121.16" textLength="3.33" lengthAdjust="spacingAndGlyphs">i</tspan><tspan x="-117.83" textLength="6.13" lengthAdjust="spacingAndGlyphs">c</tspan><tspan x="-111.70" textLength="7.65" lengthAdjust="spacingAndGlyphs">o</tspan> <tspan x="-100.78" textLength="7.62" lengthAdjust="spacingAndGlyphs">d</tspan><tspan x="-93.16" textLength="7.65" lengthAdjust="spacingAndGlyphs">o</tspan> <tspan x="-82.24" textLength="7.73" lengthAdjust="spacingAndGlyphs">C</tspan><tspan x="-74.50" textLength="6.95" lengthAdjust="spacingAndGlyphs">a</tspan><tspan x="-67.56" textLength="7.62" lengthAdjust="spacingAndGlyphs">d</tspan><tspan x="-59.94" textLength="7.65" lengthAdjust="spacingAndGlyphs">o</tspan><tspan x="-52.29" textLength="5.06" lengthAdjust="spacingAndGlyphs">r</tspan><tspan x="-47.24" textLength="7.62" lengthAdjust="spacingAndGlyphs">n</tspan><tspan x="-39.62" textLength="6.95" lengthAdjust="spacingAndGlyphs">a</tspan> <tspan x="-29.40" textLength="7.35" lengthAdjust="spacingAndGlyphs">2</tspan><tspan x="-22.05" textLength="7.35" lengthAdjust="spacingAndGlyphs">5</tspan><tspan x="-14.70" textLength="7.35" lengthAdjust="spacingAndGlyphs">9</tspan><tspan x="-7.35" textLength="7.35" lengthAdjust="spacingAndGlyphs">6</tspan></text>
<text class="lab" transform="translate(641.32 452.20) rotate(-45)"><tspan x="-157.26" textLength="12.40" lengthAdjust="spacingAndGlyphs">M</tspan><tspan x="-144.86" textLength="7.65" lengthAdjust="spacingAndGlyphs">o</tspan><tspan x="-137.21" textLength="5.06" lengthAdjust="spacingAndGlyphs">r</tspan><tspan x="-132.16" textLength="5.06" lengthAdjust="spacingAndGlyphs">r</tspan><tspan x="-127.10" textLength="7.65" lengthAdjust="spacingAndGlyphs">o</tspan> <tspan x="-116.18" textLength="7.62" lengthAdjust="spacingAndGlyphs">d</tspan><tspan x="-108.56" textLength="7.65" lengthAdjust="spacingAndGlyphs">o</tspan> <tspan x="-97.63" textLength="7.07" lengthAdjust="spacingAndGlyphs">T</tspan><tspan x="-90.57" textLength="6.95" lengthAdjust="spacingAndGlyphs">a</tspan><tspan x="-83.62" textLength="5.06" lengthAdjust="spacingAndGlyphs">r</tspan><tspan x="-78.57" textLength="4.86" lengthAdjust="spacingAndGlyphs">t</tspan><tspan x="-73.71" textLength="6.95" lengthAdjust="spacingAndGlyphs">a</tspan><tspan x="-66.77" textLength="5.06" lengthAdjust="spacingAndGlyphs">r</tspan><tspan x="-61.71" textLength="7.62" lengthAdjust="spacingAndGlyphs">u</tspan><tspan x="-54.09" textLength="6.83" lengthAdjust="spacingAndGlyphs">g</tspan><tspan x="-47.27" textLength="6.95" lengthAdjust="spacingAndGlyphs">ã</tspan><tspan x="-40.32" textLength="7.65" lengthAdjust="spacingAndGlyphs">o</tspan> <tspan x="-29.40" textLength="7.35" lengthAdjust="spacingAndGlyphs">2</tspan><tspan x="-22.05" textLength="7.35" lengthAdjust="spacingAndGlyphs">5</tspan><tspan x="-14.70" textLength="7.35" lengthAdjust="spacingAndGlyphs">9</tspan><tspan x="-7.35" textLength="7.35" lengthAdjust="spacingAndGlyphs">5</tspan></text>
<text class="lab" transform="translate(670.11 452.20) rotate(-45)"><tspan x="-111.12" textLength="7.49" lengthAdjust="spacingAndGlyphs">P</tspan><tspan x="-103.63" textLength="7.21" lengthAdjust="spacingAndGlyphs">e</tspan><tspan x="-96.42" textLength="7.62" lengthAdjust="spacingAndGlyphs">d</tspan><tspan x="-88.80" textLength="5.06" lengthAdjust="spacingAndGlyphs">r</tspan><tspan x="-83.74" textLength="6.95" lengthAdjust="spacingAndGlyphs">a</tspan> <tspan x="-73.52" textLength="6.66" lengthAdjust="spacingAndGlyphs">F</tspan><tspan x="-66.86" textLength="7.62" lengthAdjust="spacingAndGlyphs">u</tspan><tspan x="-59.24" textLength="5.06" lengthAdjust="spacingAndGlyphs">r</tspan><tspan x="-54.18" textLength="6.95" lengthAdjust="spacingAndGlyphs">a</tspan><tspan x="-47.24" textLength="7.62" lengthAdjust="spacingAndGlyphs">d</tspan><tspan x="-39.62" textLength="6.95" lengthAdjust="spacingAndGlyphs">a</tspan> <tspan x="-29.40" textLength="7.35" lengthAdjust="spacingAndGlyphs">2</tspan><tspan x="-22.05" textLength="7.35" lengthAdjust="spacingAndGlyphs">5</tspan><tspan x="-14.70" textLength="7.35" lengthAdjust="spacingAndGlyphs">8</tspan><tspan x="-7.35" textLength="7.35" lengthAdjust="spacingAndGlyphs">9</tspan></text>
<text class="lab" transform="translate(698.90 452.20) rotate(-45)"><tspan x="-145.57" textLength="7.49" lengthAdjust="spacingAndGlyphs">P</tspan><tspan x="-138.08" textLength="3.33" lengthAdjust="spacingAndGlyphs">i</tspan><tspan x="-134.76" textLength="6.13" lengthAdjust="spacingAndGlyphs">c</tspan><tspan x="-128.62" textLength="7.65" lengthAdjust="spacingAndGlyphs">o</tspan> <tspan x="-117.70" textLength="7.62" lengthAdjust="spacingAndGlyphs">d</tspan><tspan x="-110.08" textLength="7.65" lengthAdjust="spacingAndGlyphs">o</tspan> <tspan x="-99.16" textLength="7.07" lengthAdjust="spacingAndGlyphs">T</tspan><tspan x="-92.09" textLength="7.21" lengthAdjust="spacingAndGlyphs">e</tspan><tspan x="-84.88" textLength="5.67" lengthAdjust="spacingAndGlyphs">s</tspan><tspan x="-79.20" textLength="7.65" lengthAdjust="spacingAndGlyphs">o</tspan><tspan x="-71.56" textLength="7.62" lengthAdjust="spacingAndGlyphs">u</tspan><tspan x="-63.94" textLength="5.06" lengthAdjust="spacingAndGlyphs">r</tspan><tspan x="-58.89" textLength="3.33" lengthAdjust="spacingAndGlyphs">i</tspan><tspan x="-55.56" textLength="7.62" lengthAdjust="spacingAndGlyphs">n</tspan><tspan x="-47.94" textLength="7.62" lengthAdjust="spacingAndGlyphs">h</tspan><tspan x="-40.32" textLength="7.65" lengthAdjust="spacingAndGlyphs">o</tspan> <tspan x="-29.40" textLength="7.35" lengthAdjust="spacingAndGlyphs">2</tspan><tspan x="-22.05" textLength="7.35" lengthAdjust="spacingAndGlyphs">5</tspan><tspan x="-14.70" textLength="7.35" lengthAdjust="spacingAndGlyphs">8</tspan><tspan x="-7.35" textLength="7.35" lengthAdjust="spacingAndGlyphs">4</tspan></text>
<text class="lab" transform="translate(727.69 452.20) rotate(-45)"><tspan x="-130.16" textLength="7.49" lengthAdjust="spacingAndGlyphs">P</tspan><tspan x="-122.67" textLength="3.33" lengthAdjust="spacingAndGlyphs">i</tspan><tspan x="-119.34" textLength="6.13" lengthAdjust="spacingAndGlyphs">c</tspan><tspan x="-113.21" textLength="7.65" lengthAdjust="spacingAndGlyphs">o</tspan> <tspan x="-102.29" textLength="6.66" lengthAdjust="spacingAndGlyphs">S</tspan><tspan x="-95.62" textLength="7.21" lengthAdjust="spacingAndGlyphs">e</tspan><tspan x="-88.41" textLength="5.06" lengthAdjust="spacingAndGlyphs">r</tspan><tspan x="-83.35" textLength="5.06" lengthAdjust="spacingAndGlyphs">r</tspan><tspan x="-78.30" textLength="6.95" lengthAdjust="spacingAndGlyphs">a</tspan> <tspan x="-68.07" textLength="9.36" lengthAdjust="spacingAndGlyphs">N</tspan><tspan x="-58.72" textLength="7.21" lengthAdjust="spacingAndGlyphs">e</tspan><tspan x="-51.50" textLength="6.83" lengthAdjust="spacingAndGlyphs">g</tspan><tspan x="-44.68" textLength="5.06" lengthAdjust="spacingAndGlyphs">r</tspan><tspan x="-39.62" textLength="6.95" lengthAdjust="spacingAndGlyphs">a</tspan> <tspan x="-29.40" textLength="7.35" lengthAdjust="spacingAndGlyphs">2</tspan><tspan x="-22.05" textLength="7.35" lengthAdjust="spacingAndGlyphs">5</tspan><tspan x="-14.70" textLength="7.35" lengthAdjust="spacingAndGlyphs">7</tspan><tspan x="-7.35" textLength="7.35" lengthAdjust="spacingAndGlyphs">2</tspan></text>
<text class="lab" transform="translate(756.48 452.20) rotate(-45)"><tspan x="-162.16" textLength="7.49" lengthAdjust="spacingAndGlyphs">P</tspan><tspan x="-154.66" textLength="7.21" lengthAdjust="spacingAndGlyphs">e</tspan><tspan x="-147.45" textLength="7.62" lengthAdjust="spacingAndGlyphs">d</tspan><tspan x="-139.83" textLength="5.06" lengthAdjust="spacingAndGlyphs">r</tspan><tspan x="-134.78" textLength="6.95" lengthAdjust="spacingAndGlyphs">a</tspan> <tspan x="-124.55" textLength="7.73" lengthAdjust="spacingAndGlyphs">C</tspan><tspan x="-116.82" textLength="6.95" lengthAdjust="spacingAndGlyphs">a</tspan><tspan x="-109.88" textLength="7.62" lengthAdjust="spacingAndGlyphs">b</tspan><tspan x="-102.26" textLength="7.21" lengthAdjust="spacingAndGlyphs">e</tspan><tspan x="-95.04" textLength="6.13" lengthAdjust="spacingAndGlyphs">ç</tspan><tspan x="-88.91" textLength="6.95" lengthAdjust="spacingAndGlyphs">a</tspan> <tspan x="-78.69" textLength="7.62" lengthAdjust="spacingAndGlyphs">d</tspan><tspan x="-71.07" textLength="7.21" lengthAdjust="spacingAndGlyphs">e</tspan> <tspan x="-60.58" textLength="6.10" lengthAdjust="spacingAndGlyphs">L</tspan><tspan x="-54.48" textLength="7.21" lengthAdjust="spacingAndGlyphs">e</tspan><tspan x="-47.27" textLength="7.65" lengthAdjust="spacingAndGlyphs">o</tspan><tspan x="-39.62" textLength="6.95" lengthAdjust="spacingAndGlyphs">a</tspan> <tspan x="-29.40" textLength="7.35" lengthAdjust="spacingAndGlyphs">2</tspan><tspan x="-22.05" textLength="7.35" lengthAdjust="spacingAndGlyphs">4</tspan><tspan x="-14.70" textLength="7.35" lengthAdjust="spacingAndGlyphs">8</tspan><tspan x="-7.35" textLength="7.35" lengthAdjust="spacingAndGlyphs">3</tspan></text>
<text class="lab" transform="translate(785.27 452.20) rotate(-45)"><tspan x="-131.21" textLength="7.49" lengthAdjust="spacingAndGlyphs">P</tspan><tspan x="-123.72" textLength="7.21" lengthAdjust="spacingAndGlyphs">e</tspan><tspan x="-116.50" textLength="7.62" lengthAdjust="spacingAndGlyphs">d</tspan><tspan x="-108.88" textLength="5.06" lengthAdjust="spacingAndGlyphs">r</tspan><tspan x="-103.83" textLength="6.95" lengthAdjust="spacingAndGlyphs">a</tspan> <tspan x="-93.61" textLength="8.39" lengthAdjust="spacingAndGlyphs">A</tspan><tspan x="-85.22" textLength="5.67" lengthAdjust="spacingAndGlyphs">s</tspan><tspan x="-79.54" textLength="5.67" lengthAdjust="spacingAndGlyphs">s</tspan><tspan x="-73.87" textLength="7.21" lengthAdjust="spacingAndGlyphs">e</tspan><tspan x="-66.66" textLength="7.62" lengthAdjust="spacingAndGlyphs">n</tspan><tspan x="-59.04" textLength="4.86" lengthAdjust="spacingAndGlyphs">t</tspan><tspan x="-54.18" textLength="6.95" lengthAdjust="spacingAndGlyphs">a</tspan><tspan x="-47.24" textLength="7.62" lengthAdjust="spacingAndGlyphs">d</tspan><tspan x="-39.62" textLength="6.95" lengthAdjust="spacingAndGlyphs">a</tspan> <tspan x="-29.40" textLength="7.35" lengthAdjust="spacingAndGlyphs">2</tspan><tspan x="-22.05" textLength="7.35" lengthAdjust="spacingAndGlyphs">4</tspan><tspan x="-14.70" textLength="7.35" lengthAdjust="spacingAndGlyphs">5</tspan><tspan x="-7.35" textLength="7.35" lengthAdjust="spacingAndGlyphs">3</tspan></text>
<text class="lab" transform="translate(814.06 452.20) rotate(-45)"><tspan x="-136.74" textLength="7.49" lengthAdjust="spacingAndGlyphs">P</tspan><tspan x="-129.25" textLength="3.33" lengthAdjust="spacingAndGlyphs">i</tspan><tspan x="-125.93" textLength="6.13" lengthAdjust="spacingAndGlyphs">c</tspan><tspan x="-119.79" textLength="7.65" lengthAdjust="spacingAndGlyphs">o</tspan> <tspan x="-108.87" textLength="7.62" lengthAdjust="spacingAndGlyphs">d</tspan><tspan x="-101.25" textLength="7.65" lengthAdjust="spacingAndGlyphs">o</tspan><tspan x="-93.61" textLength="5.67" lengthAdjust="spacingAndGlyphs">s</tspan> <tspan x="-84.66" textLength="12.40" lengthAdjust="spacingAndGlyphs">M</tspan><tspan x="-72.26" textLength="6.95" lengthAdjust="spacingAndGlyphs">a</tspan><tspan x="-65.31" textLength="5.06" lengthAdjust="spacingAndGlyphs">r</tspan><tspan x="-60.26" textLength="3.33" lengthAdjust="spacingAndGlyphs">i</tspan><tspan x="-56.93" textLength="7.62" lengthAdjust="spacingAndGlyphs">n</tspan><tspan x="-49.31" textLength="5.67" lengthAdjust="spacingAndGlyphs">s</tspan> <tspan x="-40.36" textLength="7.35" lengthAdjust="spacingAndGlyphs">2</tspan><tspan x="-33.01" textLength="7.35" lengthAdjust="spacingAndGlyphs">4</tspan><tspan x="-25.67" textLength="7.35" lengthAdjust="spacingAndGlyphs">2</tspan><tspan x="-18.32" textLength="7.35" lengthAdjust="spacingAndGlyphs">0</tspan><tspan x="-10.97" textLength="3.62" lengthAdjust="spacingAndGlyphs">,</tspan><tspan x="-7.35" textLength="7.35" lengthAdjust="spacingAndGlyphs">7</tspan></text>
<text class="lab" transform="translate(842.85 452.20) rotate(-45)"><tspan x="-162.16" textLength="7.49" lengthAdjust="spacingAndGlyphs">P</tspan><tspan x="-154.66" textLength="7.21" lengthAdjust="spacingAndGlyphs">e</tspan><tspan x="-147.45" textLength="7.62" lengthAdjust="spacingAndGlyphs">d</tspan><tspan x="-139.83" textLength="5.06" lengthAdjust="spacingAndGlyphs">r</tspan><tspan x="-134.78" textLength="6.95" lengthAdjust="spacingAndGlyphs">a</tspan> <tspan x="-124.55" textLength="7.73" lengthAdjust="spacingAndGlyphs">C</tspan><tspan x="-116.82" textLength="6.95" lengthAdjust="spacingAndGlyphs">a</tspan><tspan x="-109.88" textLength="7.62" lengthAdjust="spacingAndGlyphs">b</tspan><tspan x="-102.26" textLength="7.21" lengthAdjust="spacingAndGlyphs">e</tspan><tspan x="-95.04" textLength="6.13" lengthAdjust="spacingAndGlyphs">ç</tspan><tspan x="-88.91" textLength="6.95" lengthAdjust="spacingAndGlyphs">a</tspan> <tspan x="-78.69" textLength="7.62" lengthAdjust="spacingAndGlyphs">d</tspan><tspan x="-71.07" textLength="7.21" lengthAdjust="spacingAndGlyphs">e</tspan> <tspan x="-60.58" textLength="6.10" lengthAdjust="spacingAndGlyphs">L</tspan><tspan x="-54.48" textLength="7.21" lengthAdjust="spacingAndGlyphs">e</tspan><tspan x="-47.27" textLength="6.95" lengthAdjust="spacingAndGlyphs">ã</tspan><tspan x="-40.32" textLength="7.65" lengthAdjust="spacingAndGlyphs">o</tspan> <tspan x="-29.40" textLength="7.35" lengthAdjust="spacingAndGlyphs">2</tspan><tspan x="-22.05" textLength="7.35" lengthAdjust="spacingAndGlyphs">4</tspan><tspan x="-14.70" textLength="7.35" lengthAdjust="spacingAndGlyphs">2</tspan><tspan x="-7.35" textLength="7.35" lengthAdjust="spacingAndGlyphs">0</tspan></text>
<text class="lab" transform="translate(871.64 452.20) rotate(-45)"><tspan x="-150.82" textLength="8.39" lengthAdjust="spacingAndGlyphs">A</tspan><tspan x="-142.43" textLength="3.33" lengthAdjust="spacingAndGlyphs">l</tspan><tspan x="-139.10" textLength="4.86" lengthAdjust="spacingAndGlyphs">t</tspan><tspan x="-134.25" textLength="7.65" lengthAdjust="spacingAndGlyphs">o</tspan> <tspan x="-123.32" textLength="7.73" lengthAdjust="spacingAndGlyphs">C</tspan><tspan x="-115.59" textLength="6.95" lengthAdjust="spacingAndGlyphs">a</tspan><tspan x="-108.64" textLength="7.62" lengthAdjust="spacingAndGlyphs">p</tspan><tspan x="-101.03" textLength="3.33" lengthAdjust="spacingAndGlyphs">i</tspan><tspan x="-97.70" textLength="11.58" lengthAdjust="spacingAndGlyphs">m</tspan> <tspan x="-82.84" textLength="8.39" lengthAdjust="spacingAndGlyphs">A</tspan><tspan x="-74.45" textLength="11.58" lengthAdjust="spacingAndGlyphs">m</tspan><tspan x="-62.86" textLength="6.95" lengthAdjust="spacingAndGlyphs">a</tspan><tspan x="-55.92" textLength="5.06" lengthAdjust="spacingAndGlyphs">r</tspan><tspan x="-50.86" textLength="7.21" lengthAdjust="spacingAndGlyphs">e</tspan><tspan x="-43.65" textLength="3.33" lengthAdjust="spacingAndGlyphs">l</tspan><tspan x="-40.32" textLength="7.65" lengthAdjust="spacingAndGlyphs">o</tspan> <tspan x="-29.40" textLength="7.35" lengthAdjust="spacingAndGlyphs">2</tspan><tspan x="-22.05" textLength="7.35" lengthAdjust="spacingAndGlyphs">3</tspan><tspan x="-14.70" textLength="7.35" lengthAdjust="spacingAndGlyphs">9</tspan><tspan x="-7.35" textLength="7.35" lengthAdjust="spacingAndGlyphs">2</tspan></text>
<text class="lab" transform="translate(900.43 452.20) rotate(-45)"><tspan x="-82.89" textLength="8.39" lengthAdjust="spacingAndGlyphs">A</tspan><tspan x="-74.50" textLength="5.06" lengthAdjust="spacingAndGlyphs">r</tspan><tspan x="-69.45" textLength="6.95" lengthAdjust="spacingAndGlyphs">a</tspan><tspan x="-62.50" textLength="7.62" lengthAdjust="spacingAndGlyphs">b</tspan><tspan x="-54.88" textLength="6.95" lengthAdjust="spacingAndGlyphs">a</tspan><tspan x="-47.94" textLength="7.62" lengthAdjust="spacingAndGlyphs">p</tspan><tspan x="-40.32" textLength="7.65" lengthAdjust="spacingAndGlyphs">o</tspan> <tspan x="-29.40" textLength="7.35" lengthAdjust="spacingAndGlyphs">2</tspan><tspan x="-22.05" textLength="7.35" lengthAdjust="spacingAndGlyphs">3</tspan><tspan x="-14.70" textLength="7.35" lengthAdjust="spacingAndGlyphs">7</tspan><tspan x="-7.35" textLength="7.35" lengthAdjust="spacingAndGlyphs">0</tspan></text>
<text class="lab" transform="translate(929.22 452.20) rotate(-45)"><tspan x="-131.26" textLength="7.49" lengthAdjust="spacingAndGlyphs">P</tspan><tspan x="-123.77" textLength="3.33" lengthAdjust="spacingAndGlyphs">i</tspan><tspan x="-120.44" textLength="6.13" lengthAdjust="spacingAndGlyphs">c</tspan><tspan x="-114.31" textLength="7.65" lengthAdjust="spacingAndGlyphs">o</tspan> <tspan x="-103.38" textLength="7.62" lengthAdjust="spacingAndGlyphs">d</tspan><tspan x="-95.77" textLength="7.65" lengthAdjust="spacingAndGlyphs">o</tspan> <tspan x="-84.84" textLength="9.15" lengthAdjust="spacingAndGlyphs">G</tspan><tspan x="-75.69" textLength="6.95" lengthAdjust="spacingAndGlyphs">a</tspan><tspan x="-68.75" textLength="5.06" lengthAdjust="spacingAndGlyphs">r</tspan><tspan x="-63.69" textLength="5.06" lengthAdjust="spacingAndGlyphs">r</tspan><tspan x="-58.64" textLength="6.95" lengthAdjust="spacingAndGlyphs">a</tspan><tspan x="-51.69" textLength="4.43" lengthAdjust="spacingAndGlyphs">f</tspan><tspan x="-47.27" textLength="6.95" lengthAdjust="spacingAndGlyphs">ã</tspan><tspan x="-40.32" textLength="7.65" lengthAdjust="spacingAndGlyphs">o</tspan> <tspan x="-29.40" textLength="7.35" lengthAdjust="spacingAndGlyphs">2</tspan><tspan x="-22.05" textLength="7.35" lengthAdjust="spacingAndGlyphs">3</tspan><tspan x="-14.70" textLength="7.35" lengthAdjust="spacingAndGlyphs">5</tspan><tspan x="-7.35" textLength="7.35" lengthAdjust="spacingAndGlyphs">9</tspan></text>
<text class="lab" transform="translate(958.01 452.20) rotate(-45)"><tspan x="-169.95" textLength="7.49" lengthAdjust="spacingAndGlyphs">P</tspan><tspan x="-162.46" textLength="3.33" lengthAdjust="spacingAndGlyphs">i</tspan><tspan x="-159.13" textLength="6.13" lengthAdjust="spacingAndGlyphs">c</tspan><tspan x="-153.00" textLength="7.65" lengthAdjust="spacingAndGlyphs">o</tspan> <tspan x="-142.08" textLength="12.40" lengthAdjust="spacingAndGlyphs">M</tspan><tspan x="-129.68" textLength="7.21" lengthAdjust="spacingAndGlyphs">é</tspan><tspan x="-122.46" textLength="7.62" lengthAdjust="spacingAndGlyphs">d</tspan><tspan x="-114.85" textLength="3.33" lengthAdjust="spacingAndGlyphs">i</tspan><tspan x="-111.52" textLength="7.65" lengthAdjust="spacingAndGlyphs">o</tspan> <tspan x="-100.59" textLength="7.62" lengthAdjust="spacingAndGlyphs">d</tspan><tspan x="-92.98" textLength="7.21" lengthAdjust="spacingAndGlyphs">e</tspan> <tspan x="-82.48" textLength="6.66" lengthAdjust="spacingAndGlyphs">F</tspan><tspan x="-75.82" textLength="5.06" lengthAdjust="spacingAndGlyphs">r</tspan><tspan x="-70.77" textLength="3.33" lengthAdjust="spacingAndGlyphs">i</tspan><tspan x="-67.44" textLength="7.62" lengthAdjust="spacingAndGlyphs">b</tspan><tspan x="-59.82" textLength="7.62" lengthAdjust="spacingAndGlyphs">u</tspan><tspan x="-52.20" textLength="5.06" lengthAdjust="spacingAndGlyphs">r</tspan><tspan x="-47.15" textLength="6.83" lengthAdjust="spacingAndGlyphs">g</tspan><tspan x="-40.32" textLength="7.65" lengthAdjust="spacingAndGlyphs">o</tspan> <tspan x="-29.40" textLength="7.35" lengthAdjust="spacingAndGlyphs">2</tspan><tspan x="-22.05" textLength="7.35" lengthAdjust="spacingAndGlyphs">3</tspan><tspan x="-14.70" textLength="7.35" lengthAdjust="spacingAndGlyphs">1</tspan><tspan x="-7.35" textLength="7.35" lengthAdjust="spacingAndGlyphs">0</tspan></text>
<text class="lab" transform="translate(986.80 452.20) rotate(-45)"><tspan x="-109.66" textLength="7.49" lengthAdjust="spacingAndGlyphs">P</tspan><tspan x="-102.17" textLength="3.33" lengthAdjust="spacingAndGlyphs">i</tspan><tspan x="-98.84" textLength="6.13" lengthAdjust="spacingAndGlyphs">c</tspan><tspan x="-92.71" textLength="7.65" lengthAdjust="spacingAndGlyphs">o</tspan> <tspan x="-81.79" textLength="3.65" lengthAdjust="spacingAndGlyphs">I</tspan><tspan x="-78.14" textLength="4.86" lengthAdjust="spacingAndGlyphs">t</tspan><tspan x="-73.28" textLength="6.95" lengthAdjust="spacingAndGlyphs">a</tspan><tspan x="-66.33" textLength="6.83" lengthAdjust="spacingAndGlyphs">g</tspan><tspan x="-59.51" textLength="7.62" lengthAdjust="spacingAndGlyphs">u</tspan><tspan x="-51.89" textLength="6.95" lengthAdjust="spacingAndGlyphs">a</tspan><tspan x="-44.94" textLength="5.06" lengthAdjust="spacingAndGlyphs">r</tspan><tspan x="-39.89" textLength="7.21" lengthAdjust="spacingAndGlyphs">é</tspan> <tspan x="-29.40" textLength="7.35" lengthAdjust="spacingAndGlyphs">2</tspan><tspan x="-22.05" textLength="7.35" lengthAdjust="spacingAndGlyphs">3</tspan><tspan x="-14.70" textLength="7.35" lengthAdjust="spacingAndGlyphs">0</tspan><tspan x="-7.35" textLength="7.35" lengthAdjust="spacingAndGlyphs">8</tspan></text>
<text class="lab" transform="translate(1015.59 452.20) rotate(-45)"><tspan x="-161.91" textLength="7.49" lengthAdjust="spacingAndGlyphs">P</tspan><tspan x="-154.42" textLength="3.33" lengthAdjust="spacingAndGlyphs">i</tspan><tspan x="-151.09" textLength="6.13" lengthAdjust="spacingAndGlyphs">c</tspan><tspan x="-144.96" textLength="7.65" lengthAdjust="spacingAndGlyphs">o</tspan> <tspan x="-134.03" textLength="7.62" lengthAdjust="spacingAndGlyphs">d</tspan><tspan x="-126.41" textLength="6.95" lengthAdjust="spacingAndGlyphs">a</tspan> <tspan x="-116.19" textLength="7.73" lengthAdjust="spacingAndGlyphs">C</tspan><tspan x="-108.46" textLength="6.95" lengthAdjust="spacingAndGlyphs">a</tspan><tspan x="-101.51" textLength="5.06" lengthAdjust="spacingAndGlyphs">r</tspan><tspan x="-96.46" textLength="6.95" lengthAdjust="spacingAndGlyphs">a</tspan> <tspan x="-86.24" textLength="7.62" lengthAdjust="spacingAndGlyphs">d</tspan><tspan x="-78.62" textLength="7.21" lengthAdjust="spacingAndGlyphs">e</tspan> <tspan x="-68.12" textLength="9.15" lengthAdjust="spacingAndGlyphs">G</tspan><tspan x="-58.98" textLength="7.65" lengthAdjust="spacingAndGlyphs">o</tspan><tspan x="-51.33" textLength="5.06" lengthAdjust="spacingAndGlyphs">r</tspan><tspan x="-46.28" textLength="3.33" lengthAdjust="spacingAndGlyphs">i</tspan><tspan x="-42.95" textLength="3.33" lengthAdjust="spacingAndGlyphs">l</tspan><tspan x="-39.62" textLength="6.95" lengthAdjust="spacingAndGlyphs">a</tspan> <tspan x="-29.40" textLength="7.35" lengthAdjust="spacingAndGlyphs">2</tspan><tspan x="-22.05" textLength="7.35" lengthAdjust="spacingAndGlyphs">2</tspan><tspan x="-14.70" textLength="7.35" lengthAdjust="spacingAndGlyphs">8</tspan><tspan x="-7.35" textLength="7.35" lengthAdjust="spacingAndGlyphs">1</tspan></text>
<text class="lab" transform="translate(1044.38 452.20) rotate(-45)"><tspan x="-114.07" textLength="7.49" lengthAdjust="spacingAndGlyphs">P</tspan><tspan x="-106.58" textLength="7.21" lengthAdjust="spacingAndGlyphs">e</tspan><tspan x="-99.37" textLength="7.62" lengthAdjust="spacingAndGlyphs">d</tspan><tspan x="-91.75" textLength="5.06" lengthAdjust="spacingAndGlyphs">r</tspan><tspan x="-86.70" textLength="6.95" lengthAdjust="spacingAndGlyphs">a</tspan> <tspan x="-76.47" textLength="7.62" lengthAdjust="spacingAndGlyphs">d</tspan><tspan x="-68.85" textLength="7.65" lengthAdjust="spacingAndGlyphs">o</tspan> <tspan x="-57.93" textLength="6.66" lengthAdjust="spacingAndGlyphs">S</tspan><tspan x="-51.27" textLength="3.33" lengthAdjust="spacingAndGlyphs">i</tspan><tspan x="-47.94" textLength="7.62" lengthAdjust="spacingAndGlyphs">n</tspan><tspan x="-40.32" textLength="7.65" lengthAdjust="spacingAndGlyphs">o</tspan> <tspan x="-29.40" textLength="7.35" lengthAdjust="spacingAndGlyphs">2</tspan><tspan x="-22.05" textLength="7.35" lengthAdjust="spacingAndGlyphs">2</tspan><tspan x="-14.70" textLength="7.35" lengthAdjust="spacingAndGlyphs">7</tspan><tspan x="-7.35" textLength="7.35" lengthAdjust="spacingAndGlyphs">5</tspan></text>
<text class="lab" transform="translate(1073.17 452.20) rotate(-45)"><tspan x="-129.51" textLength="12.40" lengthAdjust="spacingAndGlyphs">M</tspan><tspan x="-117.11" textLength="7.65" lengthAdjust="spacingAndGlyphs">o</tspan><tspan x="-109.47" textLength="5.06" lengthAdjust="spacingAndGlyphs">r</tspan><tspan x="-104.41" textLength="5.06" lengthAdjust="spacingAndGlyphs">r</tspan><tspan x="-99.35" textLength="7.65" lengthAdjust="spacingAndGlyphs">o</tspan> <tspan x="-88.43" textLength="7.62" lengthAdjust="spacingAndGlyphs">d</tspan><tspan x="-80.81" textLength="7.65" lengthAdjust="spacingAndGlyphs">o</tspan> <tspan x="-69.89" textLength="9.30" lengthAdjust="spacingAndGlyphs">U</tspan><tspan x="-60.58" textLength="5.06" lengthAdjust="spacingAndGlyphs">r</tspan><tspan x="-55.53" textLength="7.62" lengthAdjust="spacingAndGlyphs">u</tspan><tspan x="-47.91" textLength="7.62" lengthAdjust="spacingAndGlyphs">b</tspan><tspan x="-40.29" textLength="7.62" lengthAdjust="spacingAndGlyphs">u</tspan> <tspan x="-29.40" textLength="7.35" lengthAdjust="spacingAndGlyphs">2</tspan><tspan x="-22.05" textLength="7.35" lengthAdjust="spacingAndGlyphs">2</tspan><tspan x="-14.70" textLength="7.35" lengthAdjust="spacingAndGlyphs">7</tspan><tspan x="-7.35" textLength="7.35" lengthAdjust="spacingAndGlyphs">0</tspan></text>
<text class="lab" transform="translate(1101.96 452.20) rotate(-45)"><tspan x="-118.80" textLength="12.40" lengthAdjust="spacingAndGlyphs">M</tspan><tspan x="-106.41" textLength="7.65" lengthAdjust="spacingAndGlyphs">o</tspan><tspan x="-98.76" textLength="5.06" lengthAdjust="spacingAndGlyphs">r</tspan><tspan x="-93.70" textLength="5.06" lengthAdjust="spacingAndGlyphs">r</tspan><tspan x="-88.65" textLength="7.65" lengthAdjust="spacingAndGlyphs">o</tspan> <tspan x="-77.73" textLength="7.62" lengthAdjust="spacingAndGlyphs">d</tspan><tspan x="-70.11" textLength="6.95" lengthAdjust="spacingAndGlyphs">a</tspan> <tspan x="-59.88" textLength="6.10" lengthAdjust="spacingAndGlyphs">L</tspan><tspan x="-53.79" textLength="7.62" lengthAdjust="spacingAndGlyphs">u</tspan><tspan x="-46.17" textLength="6.55" lengthAdjust="spacingAndGlyphs">v</tspan><tspan x="-39.62" textLength="6.95" lengthAdjust="spacingAndGlyphs">a</tspan> <tspan x="-29.40" textLength="7.35" lengthAdjust="spacingAndGlyphs">2</tspan><tspan x="-22.05" textLength="7.35" lengthAdjust="spacingAndGlyphs">2</tspan><tspan x="-14.70" textLength="7.35" lengthAdjust="spacingAndGlyphs">6</tspan><tspan x="-7.35" textLength="7.35" lengthAdjust="spacingAndGlyphs">3</tspan></text>
<text class="lab" transform="translate(1130.75 452.20) rotate(-45)"><tspan x="-155.47" textLength="7.49" lengthAdjust="spacingAndGlyphs">P</tspan><tspan x="-147.98" textLength="3.33" lengthAdjust="spacingAndGlyphs">i</tspan><tspan x="-144.65" textLength="6.13" lengthAdjust="spacingAndGlyphs">c</tspan><tspan x="-138.52" textLength="7.65" lengthAdjust="spacingAndGlyphs">o</tspan> <tspan x="-127.60" textLength="9.15" lengthAdjust="spacingAndGlyphs">G</tspan><tspan x="-118.45" textLength="7.62" lengthAdjust="spacingAndGlyphs">u</tspan><tspan x="-110.83" textLength="3.33" lengthAdjust="spacingAndGlyphs">i</tspan><tspan x="-107.50" textLength="11.58" lengthAdjust="spacingAndGlyphs">m</tspan><tspan x="-95.92" textLength="6.95" lengthAdjust="spacingAndGlyphs">a</tspan><tspan x="-88.98" textLength="5.06" lengthAdjust="spacingAndGlyphs">r</tspan><tspan x="-83.92" textLength="6.95" lengthAdjust="spacingAndGlyphs">ã</tspan><tspan x="-76.97" textLength="7.21" lengthAdjust="spacingAndGlyphs">e</tspan><tspan x="-69.76" textLength="5.67" lengthAdjust="spacingAndGlyphs">s</tspan> <tspan x="-60.81" textLength="7.87" lengthAdjust="spacingAndGlyphs">R</tspan><tspan x="-52.94" textLength="7.65" lengthAdjust="spacingAndGlyphs">o</tspan><tspan x="-45.29" textLength="5.67" lengthAdjust="spacingAndGlyphs">s</tspan><tspan x="-39.62" textLength="6.95" lengthAdjust="spacingAndGlyphs">a</tspan> <tspan x="-29.40" textLength="7.35" lengthAdjust="spacingAndGlyphs">2</tspan><tspan x="-22.05" textLength="7.35" lengthAdjust="spacingAndGlyphs">1</tspan><tspan x="-14.70" textLength="7.35" lengthAdjust="spacingAndGlyphs">0</tspan><tspan x="-7.35" textLength="7.35" lengthAdjust="spacingAndGlyphs">5</tspan></text>
<text class="lab" transform="translate(1159.54 452.20) rotate(-45)"><tspan x="-93.80" textLength="7.49" lengthAdjust="spacingAndGlyphs">P</tspan><tspan x="-86.31" textLength="7.21" lengthAdjust="spacingAndGlyphs">e</tspan><tspan x="-79.09" textLength="7.62" lengthAdjust="spacingAndGlyphs">d</tspan><tspan x="-71.47" textLength="5.06" lengthAdjust="spacingAndGlyphs">r</tspan><tspan x="-66.42" textLength="6.95" lengthAdjust="spacingAndGlyphs">a</tspan> <tspan x="-56.19" textLength="8.39" lengthAdjust="spacingAndGlyphs">A</tspan><tspan x="-47.80" textLength="3.33" lengthAdjust="spacingAndGlyphs">l</tspan><tspan x="-44.48" textLength="4.86" lengthAdjust="spacingAndGlyphs">t</tspan><tspan x="-39.62" textLength="6.95" lengthAdjust="spacingAndGlyphs">a</tspan> <tspan x="-29.40" textLength="7.35" lengthAdjust="spacingAndGlyphs">2</tspan><tspan x="-22.05" textLength="7.35" lengthAdjust="spacingAndGlyphs">0</tspan><tspan x="-14.70" textLength="7.35" lengthAdjust="spacingAndGlyphs">9</tspan><tspan x="-7.35" textLength="7.35" lengthAdjust="spacingAndGlyphs">5</tspan></text>
<text class="lab" transform="translate(1188.33 452.20) rotate(-45)"><tspan x="-144.17" textLength="12.40" lengthAdjust="spacingAndGlyphs">M</tspan><tspan x="-131.77" textLength="7.65" lengthAdjust="spacingAndGlyphs">o</tspan><tspan x="-124.13" textLength="5.06" lengthAdjust="spacingAndGlyphs">r</tspan><tspan x="-119.07" textLength="5.06" lengthAdjust="spacingAndGlyphs">r</tspan><tspan x="-114.02" textLength="7.65" lengthAdjust="spacingAndGlyphs">o</tspan> <tspan x="-103.09" textLength="7.07" lengthAdjust="spacingAndGlyphs">T</tspan><tspan x="-96.03" textLength="3.33" lengthAdjust="spacingAndGlyphs">i</tspan><tspan x="-92.70" textLength="5.06" lengthAdjust="spacingAndGlyphs">r</tspan><tspan x="-87.64" textLength="6.95" lengthAdjust="spacingAndGlyphs">a</tspan> <tspan x="-77.42" textLength="7.73" lengthAdjust="spacingAndGlyphs">C</tspan><tspan x="-69.69" textLength="7.62" lengthAdjust="spacingAndGlyphs">h</tspan><tspan x="-62.07" textLength="6.95" lengthAdjust="spacingAndGlyphs">a</tspan><tspan x="-55.13" textLength="7.62" lengthAdjust="spacingAndGlyphs">p</tspan><tspan x="-47.51" textLength="7.21" lengthAdjust="spacingAndGlyphs">é</tspan><tspan x="-40.29" textLength="7.62" lengthAdjust="spacingAndGlyphs">u</tspan> <tspan x="-29.40" textLength="7.35" lengthAdjust="spacingAndGlyphs">2</tspan><tspan x="-22.05" textLength="7.35" lengthAdjust="spacingAndGlyphs">0</tspan><tspan x="-14.70" textLength="7.35" lengthAdjust="spacingAndGlyphs">8</tspan><tspan x="-7.35" textLength="7.35" lengthAdjust="spacingAndGlyphs">8</tspan></text>
<text class="lab" transform="translate(1217.12 452.20) rotate(-45)"><tspan x="-128.23" textLength="7.49" lengthAdjust="spacingAndGlyphs">P</tspan><tspan x="-120.74" textLength="7.21" lengthAdjust="spacingAndGlyphs">e</tspan><tspan x="-113.53" textLength="7.62" lengthAdjust="spacingAndGlyphs">d</tspan><tspan x="-105.91" textLength="5.06" lengthAdjust="spacingAndGlyphs">r</tspan><tspan x="-100.86" textLength="6.95" lengthAdjust="spacingAndGlyphs">a</tspan> <tspan x="-90.63" textLength="7.62" lengthAdjust="spacingAndGlyphs">d</tspan><tspan x="-83.01" textLength="7.65" lengthAdjust="spacingAndGlyphs">o</tspan> <tspan x="-72.09" textLength="6.66" lengthAdjust="spacingAndGlyphs">S</tspan><tspan x="-65.43" textLength="7.21" lengthAdjust="spacingAndGlyphs">e</tspan><tspan x="-58.21" textLength="3.33" lengthAdjust="spacingAndGlyphs">l</tspan><tspan x="-54.88" textLength="6.95" lengthAdjust="spacingAndGlyphs">a</tspan><tspan x="-47.94" textLength="7.62" lengthAdjust="spacingAndGlyphs">d</tspan><tspan x="-40.32" textLength="7.65" lengthAdjust="spacingAndGlyphs">o</tspan> <tspan x="-29.40" textLength="7.35" lengthAdjust="spacingAndGlyphs">2</tspan><tspan x="-22.05" textLength="7.35" lengthAdjust="spacingAndGlyphs">0</tspan><tspan x="-14.70" textLength="7.35" lengthAdjust="spacingAndGlyphs">8</tspan><tspan x="-7.35" textLength="7.35" lengthAdjust="spacingAndGlyphs">2</tspan></text>
<text class="lab" transform="translate(1245.91 452.20) rotate(-45)"><tspan x="-146.11" textLength="6.66" lengthAdjust="spacingAndGlyphs">S</tspan><tspan x="-139.45" textLength="7.21" lengthAdjust="spacingAndGlyphs">e</tspan><tspan x="-132.23" textLength="5.06" lengthAdjust="spacingAndGlyphs">r</tspan><tspan x="-127.18" textLength="5.06" lengthAdjust="spacingAndGlyphs">r</tspan><tspan x="-122.12" textLength="6.95" lengthAdjust="spacingAndGlyphs">a</tspan> <tspan x="-111.90" textLength="7.62" lengthAdjust="spacingAndGlyphs">d</tspan><tspan x="-104.28" textLength="7.65" lengthAdjust="spacingAndGlyphs">o</tspan> <tspan x="-93.36" textLength="7.89" lengthAdjust="spacingAndGlyphs">B</tspan><tspan x="-85.47" textLength="6.95" lengthAdjust="spacingAndGlyphs">a</tspan><tspan x="-78.53" textLength="5.06" lengthAdjust="spacingAndGlyphs">r</tspan><tspan x="-73.47" textLength="7.62" lengthAdjust="spacingAndGlyphs">b</tspan><tspan x="-65.85" textLength="6.95" lengthAdjust="spacingAndGlyphs">a</tspan><tspan x="-58.91" textLength="7.62" lengthAdjust="spacingAndGlyphs">d</tspan><tspan x="-51.29" textLength="7.65" lengthAdjust="spacingAndGlyphs">o</tspan> <tspan x="-40.36" textLength="7.35" lengthAdjust="spacingAndGlyphs">2</tspan><tspan x="-33.01" textLength="7.35" lengthAdjust="spacingAndGlyphs">0</tspan><tspan x="-25.67" textLength="7.35" lengthAdjust="spacingAndGlyphs">3</tspan><tspan x="-18.32" textLength="7.35" lengthAdjust="spacingAndGlyphs">3</tspan><tspan x="-10.97" textLength="3.62" lengthAdjust="spacingAndGlyphs">,</tspan><tspan x="-7.35" textLength="7.35" lengthAdjust="spacingAndGlyphs">3</tspan></text>
<text y="46.0" font-family="Liberation Sans, sans-serif" font-weight="normal" font-size="22.5" stroke="#000" stroke-width="1.4"><tspan x="538.41" textLength="14.76" lengthAdjust="spacingAndGlyphs">A</tspan><tspan x="554.11" textLength="10.30" lengthAdjust="spacingAndGlyphs">L</tspan><tspan x="565.25" textLength="12.06" lengthAdjust="spacingAndGlyphs">T</tspan><tspan x="578.32" textLength="14.76" lengthAdjust="spacingAndGlyphs">A</tspan> <tspan x="600.35" textLength="21.29" lengthAdjust="spacingAndGlyphs">M</tspan><tspan x="623.06" textLength="16.47" lengthAdjust="spacingAndGlyphs">O</tspan><tspan x="640.76" textLength="16.04" lengthAdjust="spacingAndGlyphs">N</tspan><tspan x="657.86" textLength="12.06" lengthAdjust="spacingAndGlyphs">T</tspan><tspan x="670.93" textLength="14.76" lengthAdjust="spacingAndGlyphs">A</tspan><tspan x="686.85" textLength="16.04" lengthAdjust="spacingAndGlyphs">N</tspan><tspan x="704.07" textLength="15.37" lengthAdjust="spacingAndGlyphs">H</tspan><tspan x="720.57" textLength="14.76" lengthAdjust="spacingAndGlyphs">A</tspan> <tspan x="742.41" textLength="16.04" lengthAdjust="spacingAndGlyphs">N</tspan><tspan x="759.68" textLength="16.47" lengthAdjust="spacingAndGlyphs">O</tspan> <tspan x="783.20" textLength="13.65" lengthAdjust="spacingAndGlyphs">B</tspan><tspan x="797.89" textLength="13.71" lengthAdjust="spacingAndGlyphs">R</tspan><tspan x="812.67" textLength="14.76" lengthAdjust="spacingAndGlyphs">A</tspan><tspan x="828.42" textLength="11.51" lengthAdjust="spacingAndGlyphs">S</tspan><tspan x="840.61" textLength="6.49" lengthAdjust="spacingAndGlyphs">I</tspan><tspan x="847.73" textLength="10.30" lengthAdjust="spacingAndGlyphs">L</tspan></text>
<text transform="translate(40 266) rotate(-90)" x="0" y="0" font-family="Liberation Sans, sans-serif" font-weight="bold" font-size="22" textLength="81" lengthAdjust="spacingAndGlyphs">Altitude</text>
<text x="873.2" y="623.3" font-family="Liberation Sans, sans-serif" font-size="25">©</text>
<text x="897.5" y="623" font-family="Liberation Serif, serif" font-weight="bold" font-style="italic" font-size="24" textLength="137.0" lengthAdjust="spacingAndGlyphs">Aventura.net.br</text>
<text x="1040.6" y="623" font-family="Liberation Sans, sans-serif" font-size="24.1">(Fonte: IBGE, 2015)</text>
</svg>
</body></html>
